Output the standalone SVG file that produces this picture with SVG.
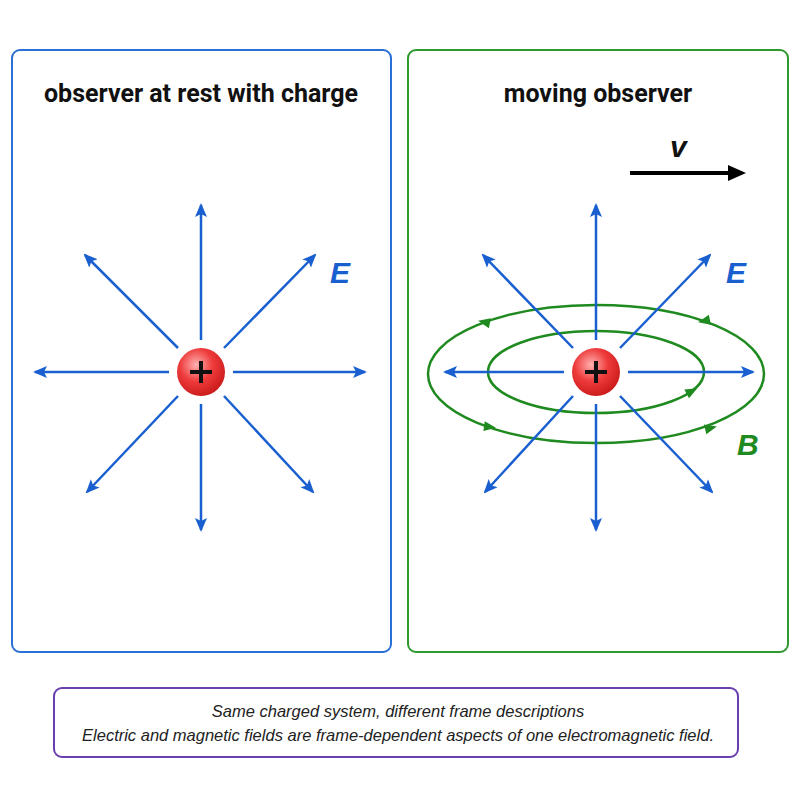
<svg xmlns="http://www.w3.org/2000/svg" width="800" height="800" viewBox="0 0 800 800">
<style>
.title{font-family:Roboto,"Liberation Sans",sans-serif;font-weight:bold;font-size:25px;fill:#111;text-anchor:middle}
.e{stroke:#1a5fd0;stroke-width:2.5;fill:none;marker-end:url(#ah)}
.b{stroke:#1f8a1f;stroke-width:2.5;fill:none}
.lab{font-family:"Liberation Sans",sans-serif;font-weight:bold;font-style:italic;font-size:30px}
.cap{font-family:"Liberation Sans",sans-serif;font-style:italic;font-size:16.5px;fill:#222;text-anchor:middle}
</style>
<defs>
<marker id="ah" markerWidth="14" markerHeight="14" refX="12" refY="7" orient="auto" markerUnits="userSpaceOnUse" viewBox="0 0 14 14"><path d="M0,1 L14,7 L0,13 L3,7 Z" fill="#1a5fd0"/></marker>
<marker id="ak" markerWidth="18" markerHeight="18" refX="14" refY="9" orient="auto" markerUnits="userSpaceOnUse" viewBox="0 0 18 18"><path d="M0,1 L18,9 L0,17 Z" fill="#000"/></marker>
<radialGradient id="rg" cx="0.4" cy="0.35" r="0.7"><stop offset="0" stop-color="#ffb0b0"/><stop offset="0.5" stop-color="#ee3a3a"/><stop offset="1" stop-color="#c81818"/></radialGradient>
<path id="gt" d="M-6,-5 L6,0 L-6,5 Z" fill="#1f8a1f"/>
</defs>
<g id="panel-rest">
<rect x="12" y="50" width="379" height="602" rx="8" fill="#fff" stroke="#2a6fd6" stroke-width="2"/>
<text class="title" x="201" y="102">observer at rest with charge</text>
</g>
<g id="panel-moving">
<rect x="408" y="50" width="380" height="602" rx="8" fill="#fff" stroke="#2e9a2e" stroke-width="2"/>
<text class="title" x="598" y="102">moving observer</text>
</g>
<g id="connectors">
<g id="e-left">
<line class="e" x1="201" y1="340" x2="201" y2="205"/>
<line class="e" x1="201" y1="404" x2="201" y2="530"/>
<line class="e" x1="169" y1="372" x2="35" y2="372"/>
<line class="e" x1="233" y1="372" x2="365" y2="372"/>
<line class="e" x1="178" y1="348" x2="85" y2="255"/>
<line class="e" x1="224" y1="348" x2="315" y2="255"/>
<line class="e" x1="178" y1="396" x2="87" y2="492"/>
<line class="e" x1="224" y1="396" x2="313" y2="492"/>
</g>
<g id="b-field">
<ellipse class="b" cx="596" cy="374" rx="168" ry="69"/>
<ellipse class="b" cx="596" cy="372" rx="108" ry="41"/>
<use href="#gt" transform="translate(484,322) rotate(192)"/>
<use href="#gt" transform="translate(704,321) rotate(168)"/>
<use href="#gt" transform="translate(490,427) rotate(8)"/>
<use href="#gt" transform="translate(711,428) rotate(-14)"/>
<use href="#gt" transform="translate(692,391) rotate(-28)"/>
</g>
<g id="e-right">
<line class="e" x1="596" y1="340" x2="596" y2="205"/>
<line class="e" x1="596" y1="404" x2="596" y2="530"/>
<line class="e" x1="564" y1="372" x2="445" y2="372"/>
<line class="e" x1="628" y1="372" x2="753" y2="372"/>
<line class="e" x1="573" y1="348" x2="483" y2="255"/>
<line class="e" x1="620" y1="348" x2="710" y2="255"/>
<line class="e" x1="573" y1="396" x2="485" y2="492"/>
<line class="e" x1="620" y1="396" x2="712" y2="492"/>
</g>
<line x1="630" y1="173" x2="742" y2="173" stroke="#000" stroke-width="4" marker-end="url(#ak)"/>
</g>
<g id="charge-left"><circle cx="201" cy="372" r="24" fill="url(#rg)"/><path d="M201,361 V383 M190,372 H212" stroke="#111" stroke-width="4"/></g>
<g id="charge-right"><circle cx="596" cy="372" r="24" fill="url(#rg)"/><path d="M596,361 V383 M585,372 H607" stroke="#111" stroke-width="4"/></g>
<text class="lab" x="330" y="283" fill="#1a5fd0">E</text>
<text class="lab" x="726" y="283" fill="#1a5fd0">E</text>
<text class="lab" x="737" y="455" fill="#1f8a1f">B</text>
<text class="lab" x="670" y="157" fill="#111" font-size="26">v</text>
<g id="caption">
<rect x="54" y="688" width="684" height="69" rx="8" fill="#fff" stroke="#6a3fb0" stroke-width="2"/>
<text class="cap" x="398" y="717">Same charged system, different frame descriptions</text>
<text class="cap" x="398" y="741">Electric and magnetic fields are frame-dependent aspects of one electromagnetic field.</text>
</g>
</svg>
